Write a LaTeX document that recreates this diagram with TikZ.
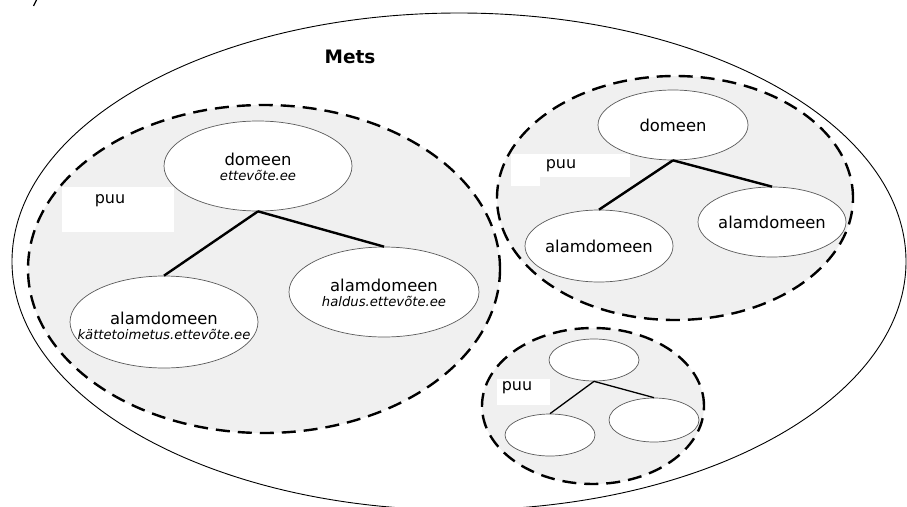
\documentclass[tikz,border=0pt]{standalone}
\usepackage{fontspec}
\setmainfont{DejaVu Sans}
\usetikzlibrary{shapes.geometric}
\definecolor{treefill}{RGB}{240,240,240}
\definecolor{rimgray}{RGB}{90,90,90}
\newcommand{\dnsname}[1]{{\fontsize{13.2}{15}\selectfont\itshape #1}}
\tikzset{
  treearea/.style={draw=black, fill=treefill, line width=2.4pt, dash pattern=on 14pt off 8pt},
  domnode/.style={ellipse, draw=rimgray, fill=white, line width=0.7pt, inner sep=0pt},
  domtext/.style={align=center, inner sep=0pt, font=\fontsize{16.4}{15.5}\selectfont},
  link/.style={line width=2.4pt},
  thinlink/.style={line width=1.3pt},
  labelbox/.style={fill=white, draw=none},
  puulabel/.style={font=\fontsize{16}{16}\selectfont, inner sep=0pt}
}
\begin{document}
\begin{tikzpicture}[x=1pt, y=-1pt]
\useasboundingbox (0,0) rectangle (907,506);
\clip (0,0) rectangle (907,506);

% the forest
\draw[line width=0.9pt] (459,261.5) ellipse [x radius=447pt, y radius=248.5pt];
\draw[line width=1.2pt] (33.5,6) -- (36.5,0);
\node[font=\fontsize{18.5}{20}\selectfont\bfseries] (mets) at (350,57) {Mets};

% first tree
\draw[treearea] (264,269) ellipse [x radius=236pt, y radius=164pt];
\fill[labelbox] (62,187) rectangle (174,232);
\node[puulabel] (puuA) at (110,201) {puu};
\node[domnode, minimum width=188pt, minimum height=90pt] (rootA) at (258,166) {};
\node[domnode, minimum width=188pt, minimum height=92pt] (leftA) at (164,322) {};
\node[domnode, minimum width=190pt, minimum height=90pt] (rightA) at (384,292) {};
\node[domtext] (rootAtext) at ([yshift=-1pt]rootA.center) {domeen\\\dnsname{ettevõte.ee}};
\node[domtext] (leftAtext) at ([yshift=-4pt]leftA.center) {alamdomeen\\\dnsname{kättetoimetus.ettevõte.ee}};
\node[domtext] (rightAtext) at ([yshift=-1pt]rightA.center) {alamdomeen\\\dnsname{haldus.ettevõte.ee}};
\draw[link] (rootA.south) -- (leftA.north);
\draw[link] (rootA.south) -- (rightA.north);

% second tree
\draw[treearea] (675,198) ellipse [x radius=178pt, y radius=122pt];
\fill[labelbox] (511,154) rectangle (630,177);
\fill[labelbox] (511,177) rectangle (540,186);
\node[puulabel] (puuB) at (561,166) {puu};
\node[domnode, minimum width=150pt, minimum height=70pt] (rootB) at (673,125) {};
\node[domnode, minimum width=148pt, minimum height=72pt] (leftB) at (599,246) {};
\node[domnode, minimum width=148pt, minimum height=70pt] (rightB) at (772,222) {};
\node[domtext] (rootBtext) at (rootB.center) {domeen};
\node[domtext] (leftBtext) at (leftB.center) {alamdomeen};
\node[domtext] (rightBtext) at (rightB.center) {alamdomeen};
\draw[link] (rootB.south) -- (leftB.north);
\draw[link] (rootB.south) -- (rightB.north);

% third tree
\draw[treearea] (593,406) ellipse [x radius=111pt, y radius=78pt];
\fill[labelbox] (497,379) rectangle (550,405);
\node[puulabel] (puuC) at (517,388) {puu};
\node[domnode, minimum width=90pt, minimum height=42pt] (rootC) at (594,360) {};
\node[domnode, minimum width=90pt, minimum height=42pt] (leftC) at (550,435) {};
\node[domnode, minimum width=90pt, minimum height=44pt] (rightC) at (654,420) {};
\draw[thinlink] (rootC.south) -- (leftC.north);
\draw[thinlink] (rootC.south) -- (rightC.north);
\end{tikzpicture}
\end{document}
